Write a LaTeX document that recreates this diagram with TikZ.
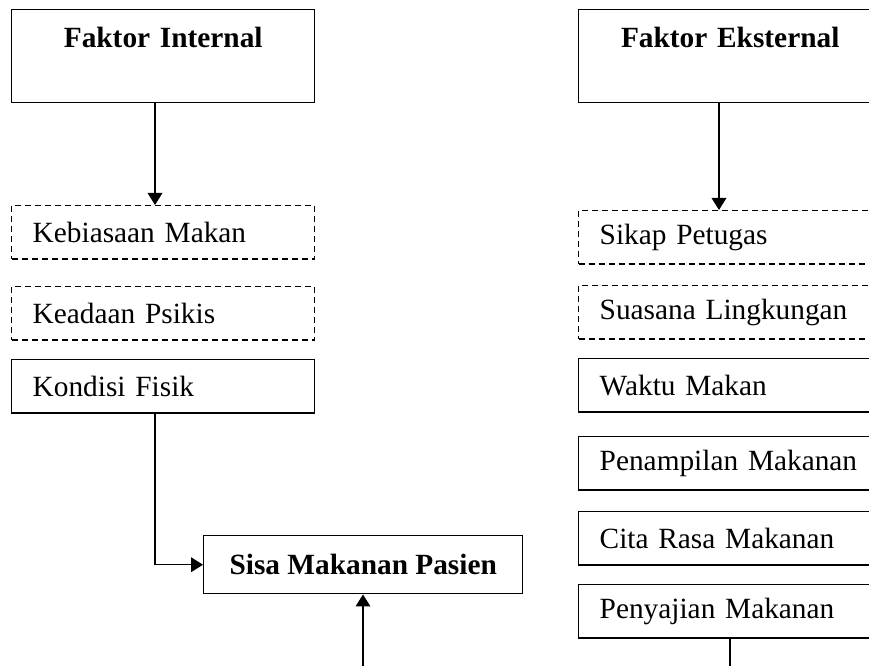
\documentclass[tikz,border=0pt]{standalone}
\usepackage{fontspec}
\setmainfont{Liberation Serif}
\usepackage{xcolor}
\definecolor{Black}{RGB}{0,0,0}
\definecolor{White}{RGB}{255,255,255}
\newcommand{\teksbox}{\fontsize{22}{26}\selectfont}
\usepackage{tikz}
\usetikzlibrary{arrows.meta}

\begin{document}
\begin{tikzpicture}[x=0.75pt, y=-0.75pt,
		kotak/.style={draw=Black, line width=1.1pt, anchor=north west, align=left, text width=195.75pt, inner xsep=15.75pt, minimum height=40pt, font=\teksbox},
		putus/.style={kotak, dash pattern=on 4.5pt off 3pt},
		judul/.style={draw=Black, line width=1.1pt, anchor=north west, align=center, text width=195.75pt, inner xsep=15.75pt, inner ysep=13pt, text height=15.5pt, text depth=28.25pt, font=\teksbox\bfseries},
		hasil/.style={draw=Black, line width=1.1pt, anchor=north west, align=center, minimum width=239.25pt, minimum height=43.5pt, font=\teksbox\bfseries},
		panah/.style={-{Triangle[length=9pt,width=11pt]}, draw=Black, line width=1pt},
		garis/.style={-, draw=Black, line width=1pt}]
		
		\useasboundingbox (0,0) rectangle (869,666);
		\clip (0,0) rectangle (869,666);
		
		% Faktor internal
		\node[judul] (internal) at (11,9) {Faktor Internal};
		\node[putus] (kebiasaan) at (11,205) {Kebiasaan Makan};
		\node[putus] (psikis) at (11,286) {Keadaan Psikis};
		\node[kotak] (fisik) at (11,359) {Kondisi Fisik};
		
		% Faktor eksternal
		\node[judul] (eksternal) at (578,9) {Faktor Eksternal};
		\node[putus] (sikap) at (578,210) {Sikap Petugas};
		\node[putus] (suasana) at (578,285) {Suasana Lingkungan};
		\node[kotak] (waktu) at (578,358) {Waktu Makan};
		\node[kotak] (penampilan) at (578,436) {Penampilan Makanan};
		\node[kotak] (citarasa) at (578,511) {Cita Rasa Makanan};
		\node[kotak] (penyajian) at (578,584) {Penyajian Makanan};
		
		% Sisa makanan
		\node[hasil] (sisa) at (203,535) {Sisa Makanan Pasien};
		
		% Jalur
		\coordinate (jalurkiri) at (155,0);
		\coordinate (jalurkanan) at (719,0);
		\coordinate (bawahsisa) at (363,666);
		\coordinate (bawahsaji) at (730,666);
		
		\draw[panah] (internal.south -| jalurkiri) -- (kebiasaan.north -| jalurkiri);
		\draw[panah] (eksternal.south -| jalurkanan) -- (sikap.north -| jalurkanan);
		\draw[panah] (fisik.south -| jalurkiri) |- (sisa.west);
		\draw[panah] (bawahsisa) -- (sisa.south -| bawahsisa);
		\draw[garis] (penyajian.south -| bawahsaji) -- (bawahsaji);
		
	\end{tikzpicture}
\end{document}
